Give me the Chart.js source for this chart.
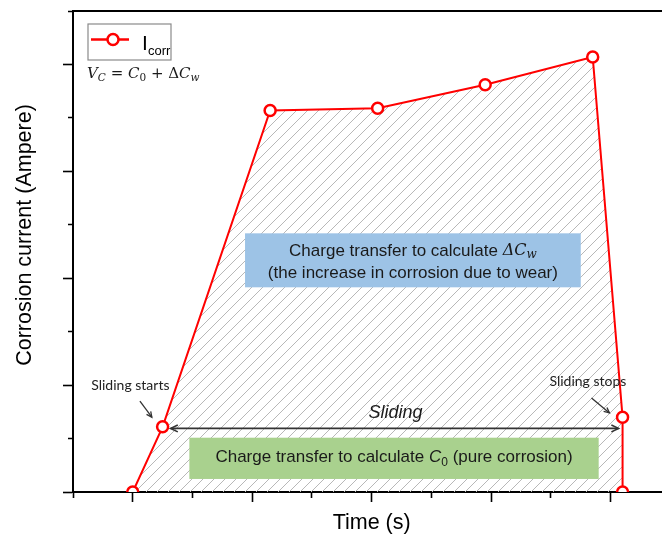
<!DOCTYPE html>
<html>
<head>
<meta charset="utf-8">
<script src="https://cdn.jsdelivr.net/npm/chart.js@4.4.1/dist/chart.umd.min.js"></script>
<style>
  html, body { margin: 0; padding: 0; background: #fff; }
  #wrap { width: 662px; height: 537px; }
</style>
</head>
<body>
<div id="wrap"><canvas id="chart" width="662" height="537"></canvas></div>
<script>
// Corrosion current during a sliding test (arbitrary units on both axes)
const timeValues    = [0, 0.25, 1.15, 2.05, 2.95, 3.85, 4.10, 4.10];
const currentValues = [0, 0.61, 3.57, 3.59, 3.81, 4.07, 0.70, 0];
const seriesLabel   = 'Icorr';

// Tick positions (no tick labels are printed, only marks)
const xTickValues = [-0.5, 0, 0.5, 1, 1.5, 2, 2.5, 3, 3.5, 4];
const yTickValues = [0, 0.5, 1, 1.5, 2, 2.5, 3, 3.5, 4, 4.5];

const xTitle = 'Time (s)';
const yTitle = 'Corrosion current (Ampere)';

const SANS = "'Liberation Sans', Arial, sans-serif";
const SERIF = "'DejaVu Serif', 'Liberation Serif', serif";
const LABEL = "Lato, 'Open Sans', sans-serif";
const RED = '#ff0000';

// Diagonal hatch used for the charge-transfer area
function makeHatch() {
  const s = 11;
  const c = document.createElement('canvas');
  c.width = s; c.height = s;
  const g = c.getContext('2d');
  g.strokeStyle = '#b8b8b8';
  g.lineWidth = 1;
  g.beginPath();
  g.moveTo(0, s); g.lineTo(s, 0);
  g.moveTo(-1, 1); g.lineTo(1, -1);
  g.moveTo(s - 1, s + 1); g.lineTo(s + 1, s - 1);
  g.stroke();
  return g.createPattern(c, 'repeat');
}

const isMinor = c => c.tick && Math.abs(c.tick.value % 1) > 1e-9;

// Draws a sequence of text runs (with optional baseline shift) centred on cx
function drawRuns(ctx, runs, cx, cy, align) {
  ctx.save();
  ctx.textBaseline = 'middle';
  ctx.textAlign = 'left';
  let total = 0;
  runs.forEach(r => { ctx.font = r.font; r.w = ctx.measureText(r.t).width; total += r.w; });
  let x = align === 'left' ? cx : cx - total / 2;
  runs.forEach(r => {
    ctx.font = r.font;
    ctx.fillStyle = r.color || '#1a1a1a';
    ctx.fillText(r.t, x, cy + (r.dy || 0));
    x += r.w;
  });
  ctx.restore();
}

function arrowHead(ctx, x, y, angle, len) {
  const a = 0.45;
  ctx.beginPath();
  ctx.moveTo(x - len * Math.cos(angle - a), y - len * Math.sin(angle - a));
  ctx.lineTo(x, y);
  ctx.lineTo(x - len * Math.cos(angle + a), y - len * Math.sin(angle + a));
  ctx.stroke();
}

function arrow(ctx, x1, y1, x2, y2, both, len) {
  ctx.beginPath();
  ctx.moveTo(x1, y1); ctx.lineTo(x2, y2);
  ctx.stroke();
  const ang = Math.atan2(y2 - y1, x2 - x1);
  arrowHead(ctx, x2, y2, ang, len);
  if (both) arrowHead(ctx, x1, y1, ang + Math.PI, len);
}

const annotations = {
  id: 'annotations',
  afterDatasetsDraw(chart) {
    const { ctx, chartArea: ca } = chart;
    const X = v => chart.scales.x.getPixelForValue(v);
    const Y = v => chart.scales.y.getPixelForValue(v);
    ctx.save();

    // Wear contribution box
    ctx.fillStyle = '#9dc3e6';
    ctx.fillRect(X(0.94), Y(2.42), X(3.75) - X(0.94), Y(1.915) - Y(2.42));
    const bcx = (X(0.94) + X(3.75)) / 2;
    drawRuns(ctx, [
      { t: 'Charge transfer to calculate ', font: `17px ${SANS}` },
      { t: 'Δ', font: `italic 16px ${SERIF}` },
      { t: 'C', font: `italic 16px ${SERIF}` },
      { t: 'w', font: `italic 12px ${SERIF}`, dy: 4 }
    ], bcx, Y(2.42) + 18);
    drawRuns(ctx, [
      { t: '(the increase in corrosion due to wear)', font: `17px ${SANS}` }
    ], bcx, Y(2.42) + 40);

    // Pure corrosion box
    ctx.fillStyle = '#a9d18e';
    ctx.fillRect(X(0.474), Y(0.508), X(3.90) - X(0.474), Y(0.122) - Y(0.508));
    drawRuns(ctx, [
      { t: 'Charge transfer to calculate ', font: `17px ${SANS}` },
      { t: 'C', font: `italic 17px ${SANS}` },
      { t: '0', font: `12px ${SANS}`, dy: 5 },
      { t: ' (pure corrosion)', font: `17px ${SANS}` }
    ], (X(0.474) + X(3.90)) / 2, (Y(0.508) + Y(0.122)) / 2 - 1);

    // Sliding period
    ctx.strokeStyle = '#333';
    ctx.lineWidth = 1.6;
    arrow(ctx, X(timeValues[1]) + 8, Y(0.595), X(timeValues[6]) - 4, Y(0.595), true, 8);
    drawRuns(ctx, [{ t: 'Sliding', font: `italic 18px ${SANS}` }], X(2.2), Y(0.74));

    // Call-outs
    drawRuns(ctx, [{ t: 'Sliding starts', font: `14px ${LABEL}`, color: '#222' }], X(-0.02), Y(0.995));
    drawRuns(ctx, [{ t: 'Sliding stops', font: `14px ${LABEL}`, color: '#222' }], X(3.81), Y(1.03));
    ctx.lineWidth = 1.3;
    arrow(ctx, X(0.06), Y(0.85), X(0.16), Y(0.70), false, 6);
    arrow(ctx, X(3.84), Y(0.88), X(3.99), Y(0.74), false, 6);

    // Legend
    const lx = ca.left + 15, ly = ca.top + 13;
    ctx.strokeStyle = '#8a8a8a';
    ctx.lineWidth = 1.2;
    ctx.strokeRect(lx, ly, 83, 36);
    ctx.strokeStyle = RED;
    ctx.lineWidth = 2.5;
    ctx.beginPath();
    ctx.moveTo(lx + 3, ly + 15.5); ctx.lineTo(lx + 41, ly + 15.5);
    ctx.stroke();
    ctx.beginPath();
    ctx.arc(lx + 25, ly + 15.5, 5.5, 0, Math.PI * 2);
    ctx.fillStyle = '#fff';
    ctx.fill();
    ctx.stroke();
    ctx.fillStyle = '#000';
    ctx.textBaseline = 'alphabetic';
    ctx.font = `21px ${SANS}`;
    ctx.fillText(seriesLabel.charAt(0), lx + 54, ly + 26);
    ctx.font = `13px ${SANS}`;
    ctx.fillText(seriesLabel.slice(1), lx + 60, ly + 31);

    // Charge balance
    drawRuns(ctx, [
      { t: 'V', font: `italic 15px ${SERIF}` },
      { t: 'C', font: `italic 10.5px ${SERIF}`, dy: 4 },
      { t: ' = ', font: `15px ${SERIF}` },
      { t: 'C', font: `italic 15px ${SERIF}` },
      { t: '0', font: `10.5px ${SERIF}`, dy: 4 },
      { t: ' + Δ', font: `15px ${SERIF}` },
      { t: 'C', font: `italic 15px ${SERIF}` },
      { t: 'w', font: `italic 10.5px ${SERIF}`, dy: 4 }
    ], ca.left + 14, ca.top + 63, 'left');

    ctx.restore();
  },
  afterDraw(chart) {
    // Axis titles
    const { ctx } = chart;
    ctx.save();
    ctx.fillStyle = '#000';
    ctx.textAlign = 'center';
    ctx.textBaseline = 'middle';
    ctx.font = `21.5px ${SANS}`;
    ctx.fillText(xTitle, chart.scales.x.getPixelForValue(2.0), 523);
    ctx.translate(25.5, 235);
    ctx.rotate(-Math.PI / 2);
    ctx.fillText(yTitle, 0, 0);
    ctx.restore();
  }
};

new Chart(document.getElementById('chart'), {
  type: 'line',
  data: {
    datasets: [{
      label: seriesLabel,
      data: timeValues.map((t, i) => ({ x: t, y: currentValues[i] })),
      borderColor: RED,
      borderWidth: 2,
      backgroundColor: makeHatch(),
      fill: 'origin',
      tension: 0,
      pointRadius: 5.5,
      pointHoverRadius: 5.5,
      pointBorderWidth: 2.5,
      pointBorderColor: RED,
      pointBackgroundColor: '#fff',
      clip: { left: 10, top: 10, right: 10, bottom: 0 }
    }]
  },
  options: {
    responsive: false,
    animation: false,
    devicePixelRatio: 1,
    layout: { autoPadding: false, padding: { left: 63, right: 0, top: 11, bottom: 35 } },
    plugins: { legend: { display: false }, tooltip: { enabled: false } },
    scales: {
      x: {
        type: 'linear', position: 'bottom', min: -0.5, max: 4.43,
        afterBuildTicks: s => { s.ticks = xTickValues.map(v => ({ value: v })); },
        ticks: { display: false },
        grid: {
          display: true, drawOnChartArea: false, drawTicks: true, tickLength: 10,
          tickColor: '#000', tickWidth: 1.6,
          tickBorderDash: c => isMinor(c) ? [5, 100] : []
        },
        border: { display: true, color: '#000', width: 2 },
        title: { display: false }
      },
      xTop: {
        type: 'linear', position: 'top', min: -0.5, max: 4.43,
        ticks: { display: false },
        grid: { display: false, drawTicks: false },
        border: { display: true, color: '#000', width: 2 }
      },
      y: {
        type: 'linear', position: 'left', min: 0, max: 4.5,
        afterBuildTicks: s => { s.ticks = yTickValues.map(v => ({ value: v })); },
        ticks: { display: false },
        grid: {
          display: true, drawOnChartArea: false, drawTicks: true, tickLength: 10,
          tickColor: '#000', tickWidth: 1.6,
          tickBorderDash: c => isMinor(c) ? [0, 5, 5, 100] : []
        },
        border: { display: true, color: '#000', width: 2 },
        title: { display: false }
      }
    }
  },
  plugins: [annotations]
});
</script>
</body>
</html>
